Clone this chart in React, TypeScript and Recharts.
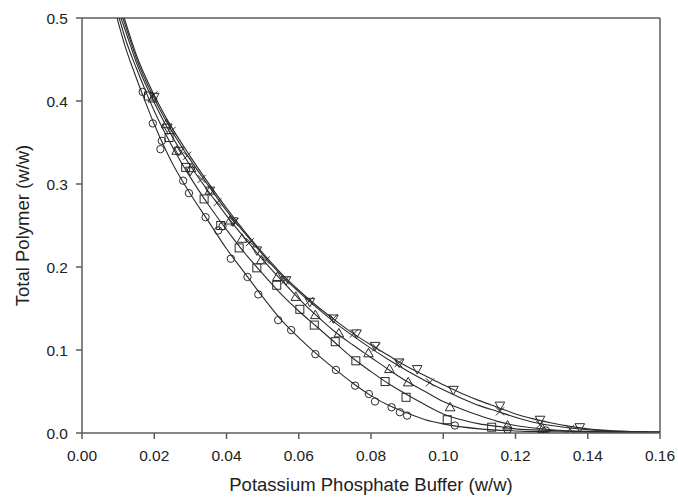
import {
  ComposedChart,
  Line,
  ReferenceLine,
  Scatter,
  XAxis,
  YAxis,
} from "recharts"

// measured points (buffer w/w, polymer w/w)
const circlePts: [number, number][] = [
  [0.0168, 0.411], [0.0196, 0.373], [0.0221, 0.352], [0.0217, 0.342],
  [0.028, 0.304], [0.0296, 0.289], [0.0342, 0.26], [0.0377, 0.244],
  [0.0389, 0.249], [0.0412, 0.21], [0.0458, 0.188], [0.0488, 0.167],
  [0.0543, 0.136], [0.0579, 0.124], [0.0646, 0.095], [0.0703, 0.076],
  [0.0756, 0.057], [0.0794, 0.047], [0.0811, 0.038], [0.0857, 0.031],
  [0.088, 0.025], [0.09, 0.021], [0.1032, 0.009], [0.1178, 0.004],
  [0.1284, 0.003],
]
const squarePts: [number, number][] = [
  [0.0184, 0.406], [0.0241, 0.356], [0.0287, 0.32], [0.0338, 0.282],
  [0.0384, 0.25], [0.0435, 0.223], [0.0484, 0.199], [0.0539, 0.178],
  [0.0603, 0.149], [0.0643, 0.13], [0.0701, 0.11], [0.0758, 0.087],
  [0.0839, 0.062], [0.0897, 0.043], [0.1011, 0.016], [0.1134, 0.007],
]
const triUpPts: [number, number][] = [
  [0.0196, 0.403], [0.0233, 0.372], [0.0262, 0.34], [0.0302, 0.319],
  [0.0354, 0.292], [0.041, 0.256], [0.0443, 0.234], [0.0496, 0.208],
  [0.0541, 0.188], [0.0592, 0.164], [0.0646, 0.142], [0.0711, 0.12],
  [0.0793, 0.096], [0.0851, 0.077], [0.0903, 0.061], [0.1019, 0.031],
  [0.1178, 0.009], [0.1275, 0.005],
]
const crossPts: [number, number][] = [
  [0.0198, 0.407], [0.0248, 0.364], [0.0291, 0.334], [0.0331, 0.306],
  [0.0375, 0.278], [0.0422, 0.254], [0.0465, 0.23], [0.0509, 0.208],
  [0.0562, 0.184], [0.0629, 0.159], [0.0696, 0.138], [0.0753, 0.12],
  [0.0814, 0.103], [0.0876, 0.084], [0.0963, 0.061], [0.1157, 0.026],
  [0.1268, 0.01], [0.1351, 0.005],
]
const triDownPts: [number, number][] = [
  [0.02, 0.405], [0.0236, 0.368], [0.0268, 0.34], [0.03, 0.316],
  [0.0354, 0.292], [0.0418, 0.255], [0.0484, 0.22], [0.0565, 0.184],
  [0.0631, 0.158], [0.0696, 0.138], [0.076, 0.12], [0.0811, 0.105],
  [0.0878, 0.085], [0.0928, 0.077], [0.1028, 0.052], [0.1157, 0.033],
  [0.1268, 0.016], [0.1378, 0.007],
]

// fitted binodal curves
const circleFit: [number, number][] = [
  [0.0097, 0.5], [0.012, 0.465], [0.014, 0.44], [0.017, 0.405], [0.02, 0.372],
  [0.025, 0.325], [0.03, 0.288], [0.035, 0.255], [0.04, 0.222], [0.045, 0.193],
  [0.05, 0.164], [0.055, 0.137], [0.06, 0.115], [0.065, 0.095], [0.07, 0.077],
  [0.075, 0.06], [0.08, 0.045], [0.085, 0.033], [0.09, 0.024], [0.095, 0.016],
  [0.1, 0.011], [0.11, 0.005], [0.12, 0.0025], [0.13, 0.0015], [0.14, 0.001],
  [0.16, 0.0005],
]
const squareFit: [number, number][] = [
  [0.0103, 0.5], [0.012, 0.475], [0.015, 0.44], [0.018, 0.408], [0.02, 0.388],
  [0.025, 0.345], [0.03, 0.308], [0.035, 0.275], [0.04, 0.245], [0.045, 0.217],
  [0.05, 0.192], [0.055, 0.168], [0.06, 0.147], [0.065, 0.128], [0.07, 0.109],
  [0.075, 0.09], [0.08, 0.074], [0.085, 0.059], [0.09, 0.046], [0.095, 0.034],
  [0.1, 0.023], [0.105, 0.016], [0.11, 0.011], [0.115, 0.008], [0.12, 0.005],
  [0.13, 0.003], [0.14, 0.0015], [0.16, 0.0007],
]
const triUpFit: [number, number][] = [
  [0.0108, 0.5], [0.012, 0.485], [0.015, 0.447], [0.02, 0.398], [0.025, 0.357],
  [0.03, 0.322], [0.035, 0.291], [0.04, 0.262], [0.045, 0.235], [0.05, 0.209],
  [0.055, 0.185], [0.06, 0.162], [0.065, 0.141], [0.07, 0.122], [0.075, 0.106],
  [0.08, 0.091], [0.085, 0.076], [0.09, 0.062], [0.095, 0.05], [0.1, 0.038],
  [0.105, 0.029], [0.11, 0.021], [0.115, 0.014], [0.12, 0.009], [0.13, 0.004],
  [0.14, 0.002], [0.16, 0.0008],
]
const crossFit: [number, number][] = [
  [0.0113, 0.5], [0.013, 0.478], [0.015, 0.452], [0.02, 0.403], [0.025, 0.363],
  [0.03, 0.329], [0.035, 0.298], [0.04, 0.268], [0.045, 0.241], [0.05, 0.215],
  [0.055, 0.191], [0.06, 0.17], [0.065, 0.151], [0.07, 0.133], [0.075, 0.117],
  [0.08, 0.102], [0.085, 0.088], [0.09, 0.075], [0.095, 0.063], [0.1, 0.052],
  [0.105, 0.042], [0.11, 0.033], [0.115, 0.026], [0.12, 0.019], [0.125, 0.013],
  [0.13, 0.009], [0.135, 0.006], [0.14, 0.004], [0.15, 0.002], [0.16, 0.001],
]
const triDownFit: [number, number][] = [
  [0.0117, 0.5], [0.013, 0.482], [0.015, 0.456], [0.02, 0.407], [0.025, 0.367],
  [0.03, 0.333], [0.035, 0.301], [0.04, 0.271], [0.045, 0.243], [0.05, 0.217],
  [0.055, 0.193], [0.06, 0.172], [0.065, 0.153], [0.07, 0.136], [0.075, 0.12],
  [0.08, 0.106], [0.085, 0.093], [0.09, 0.08], [0.095, 0.069], [0.1, 0.058],
  [0.105, 0.048], [0.11, 0.039], [0.115, 0.031], [0.12, 0.023], [0.125, 0.017],
  [0.13, 0.012], [0.135, 0.008], [0.14, 0.005], [0.15, 0.002], [0.16, 0.001],
]

const xTicks = [0, 0.02, 0.04, 0.06, 0.08, 0.1, 0.12, 0.14, 0.16]
const yTicks = [0, 0.1, 0.2, 0.3, 0.4, 0.5]

const toRows = (pts: [number, number][]) => pts.map(([x, y]) => ({ x, y }))

const INK = "#2a2a2a"
const AXIS = "#5c5c5c"
const FONT = "'Liberation Sans', Arial, sans-serif"

const CircleMark = (p: any) => (
  <circle cx={p.cx} cy={p.cy} r={3.7} fill="none" stroke={INK} strokeWidth={1} />
)
const SquareMark = (p: any) => (
  <rect x={p.cx - 4} y={p.cy - 4} width={8} height={8} fill="none" stroke={INK} strokeWidth={1} />
)
const TriUpMark = (p: any) => (
  <path
    d={`M${p.cx},${p.cy - 5}L${p.cx + 4.8},${p.cy + 3.5}L${p.cx - 4.8},${p.cy + 3.5}Z`}
    fill="none"
    stroke={INK}
    strokeWidth={1}
  />
)
const TriDownMark = (p: any) => (
  <path
    d={`M${p.cx},${p.cy + 5}L${p.cx + 4.8},${p.cy - 3.5}L${p.cx - 4.8},${p.cy - 3.5}Z`}
    fill="none"
    stroke={INK}
    strokeWidth={1}
  />
)
const CrossMark = (p: any) => (
  <path
    d={`M${p.cx - 4},${p.cy - 4}L${p.cx + 4},${p.cy + 4}M${p.cx + 4},${p.cy - 4}L${p.cx - 4},${p.cy + 4}`}
    stroke={INK}
    strokeWidth={1}
  />
)

const series = [
  { name: "circle", pts: circlePts, fit: circleFit, shape: CircleMark },
  { name: "square", pts: squarePts, fit: squareFit, shape: SquareMark },
  { name: "triUp", pts: triUpPts, fit: triUpFit, shape: TriUpMark },
  { name: "cross", pts: crossPts, fit: crossFit, shape: CrossMark },
  { name: "triDown", pts: triDownPts, fit: triDownFit, shape: TriDownMark },
]

export default function App() {
  return (
    <div style={{ position: "absolute", left: 0, top: 0, background: "#fff" }}>
      <ComposedChart
        width={678}
        height={503}
        margin={{ top: 18, right: 18, left: 0, bottom: 0 }}
        style={{ fontFamily: FONT }}
      >
        <XAxis
          type="number"
          dataKey="x"
          domain={[0, 0.16]}
          ticks={xTicks}
          tickFormatter={(v: number) => v.toFixed(2)}
          height={70}
          tickSize={6}
          tickMargin={11}
          stroke={AXIS}
          strokeWidth={1.5}
          tick={{ fill: "#222", fontSize: 15.5 }}
          allowDataOverflow
          label={{
            value: "Potassium Phosphate Buffer (w/w)",
            position: "center",
            dy: 16,
            fill: "#222",
            fontSize: 18.5,
          }}
        />
        <YAxis
          type="number"
          dataKey="y"
          domain={[0, 0.5]}
          ticks={yTicks}
          tickFormatter={(v: number) => v.toFixed(1)}
          width={82}
          tickSize={6}
          tickMargin={8}
          stroke={AXIS}
          strokeWidth={1.5}
          tick={{ fill: "#222", fontSize: 15.5 }}
          allowDataOverflow
          label={{
            value: "Total Polymer (w/w)",
            angle: -90,
            position: "center",
            dx: -19,
            fill: "#222",
            fontSize: 18.5,
          }}
        />
        <ReferenceLine y={0.5} stroke={AXIS} strokeWidth={1.5} />
        <ReferenceLine x={0.16} stroke={AXIS} strokeWidth={1.5} />
        {series.map((s) => (
          <Line
            key={`fit-${s.name}`}
            data={toRows(s.fit)}
            dataKey="y"
            type="monotone"
            stroke={INK}
            strokeWidth={1.1}
            dot={false}
            activeDot={false}
            isAnimationActive={false}
          />
        ))}
        {series.map((s) => (
          <Scatter
            key={`pts-${s.name}`}
            data={toRows(s.pts)}
            dataKey="y"
            shape={s.shape}
            isAnimationActive={false}
          />
        ))}
      </ComposedChart>
    </div>
  )
}
